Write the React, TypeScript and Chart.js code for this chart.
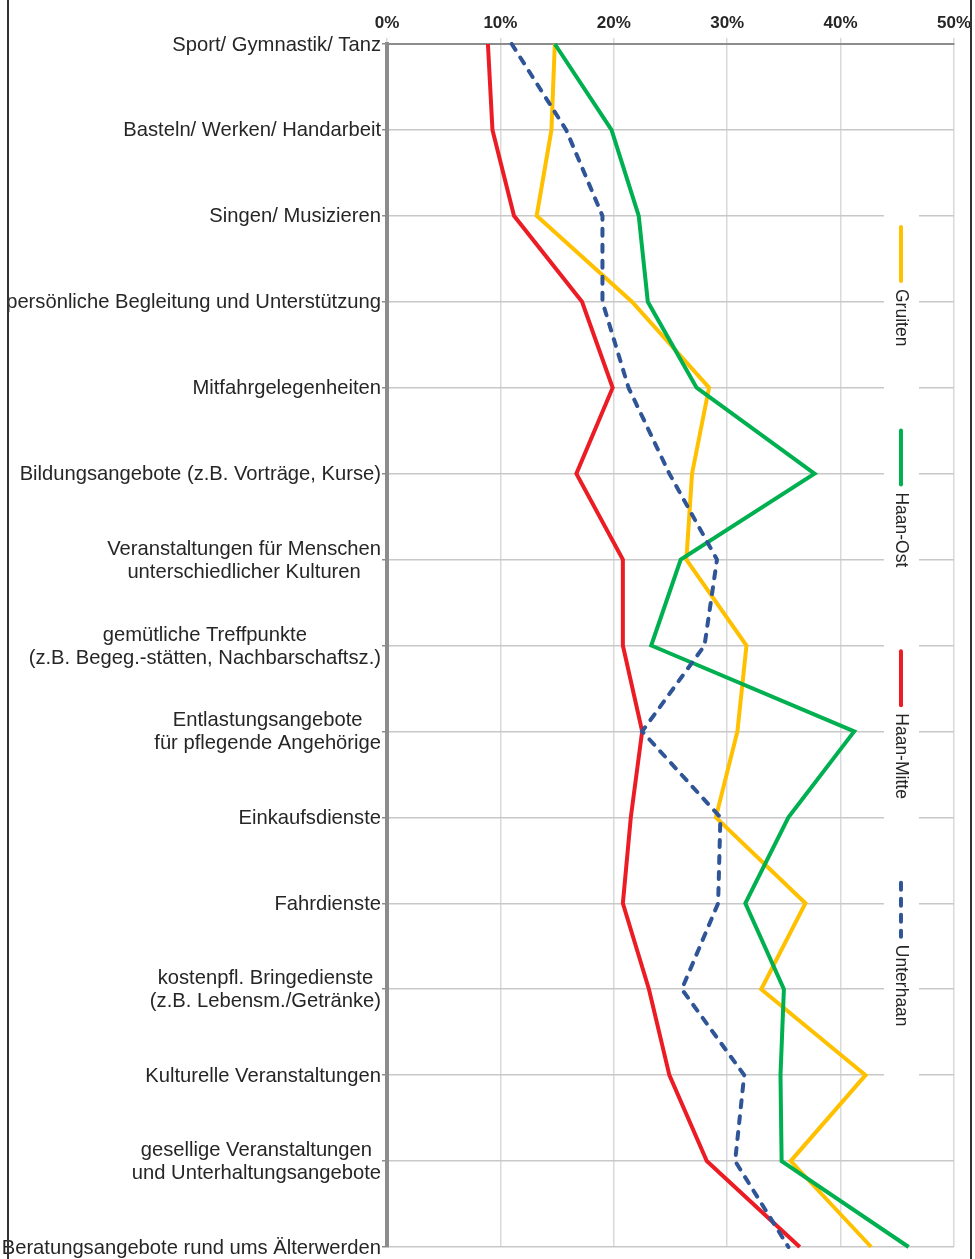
import React, { useEffect, useRef } from 'react';
import { Chart, registerables } from 'chart.js';

Chart.register(...registerables);

const categories: (string | string[])[] = [
  'Sport/ Gymnastik/ Tanz',
  'Basteln/ Werken/ Handarbeit',
  'Singen/ Musizieren',
  'persönliche Begleitung und Unterstützung',
  'Mitfahrgelegenheiten',
  'Bildungsangebote (z.B. Vorträge, Kurse)',
  ['Veranstaltungen für Menschen', 'unterschiedlicher Kulturen'],
  ['gemütliche Treffpunkte', '(z.B. Begeg.-stätten, Nachbarschaftsz.)'],
  ['Entlastungsangebote', 'für pflegende Angehörige'],
  'Einkaufsdienste',
  'Fahrdienste',
  ['kostenpfl. Bringedienste', '(z.B. Lebensm./Getränke)'],
  'Kulturelle Veranstaltungen',
  ['gesellige Veranstaltungen', 'und Unterhaltungsangebote'],
  'Beratungsangebote rund ums Älterwerden',
];

const seriesNames = ['Gruiten', 'Haan-Ost', 'Haan-Mitte', 'Unterhaan'];

const gruiten = [14.8, 14.5, 13.2, 21.6, 28.4, 26.9, 26.4, 31.7, 30.9, 29.0, 36.9, 33.0, 42.2, 35.6, 42.7];
const haanOst = [14.8, 19.8, 22.2, 23.0, 27.3, 37.7, 25.9, 23.3, 41.2, 35.4, 31.6, 35.0, 34.7, 34.8, 46.0];
const haanMitte = [8.9, 9.3, 11.2, 17.2, 19.9, 16.7, 20.8, 20.8, 22.5, 21.5, 20.8, 23.1, 24.9, 28.2, 36.4];
const unterhaan = [11.0, 15.8, 19.0, 19.0, 21.3, 24.9, 29.1, 28.0, 22.5, 29.4, 29.2, 26.0, 31.5, 30.7, 35.4];

const xTicks = [0, 10, 20, 30, 40, 50];

const seriesValues = [gruiten, haanOst, haanMitte, unterhaan];
const seriesColors = ['#FFC000', '#00B050', '#EC1C24', '#2F5597'];
const seriesDashes: number[][] = [[], [], [], [7, 9]];

const FONT = '"Liberation Sans", Arial, sans-serif';
const TEXT_COLOR = '#262626';

const yLabelPlugin = {
  id: 'yLabels',
  afterDraw(chart: any) {
    const { ctx } = chart;
    const y = chart.scales.y;
    ctx.save();
    ctx.font = `20.2px ${FONT}`;
    ctx.fillStyle = TEXT_COLOR;
    ctx.textBaseline = 'middle';
    ctx.textAlign = 'center';
    const right = y.right - 6;
    const lh = 23;
    categories.forEach((label, i) => {
      const lines = Array.isArray(label) ? label : [label];
      const yc = y.getPixelForTick(i) + 1;
      const maxW = Math.max(...lines.map((l) => ctx.measureText(l).width));
      const cx = right - maxW / 2;
      lines.forEach((l, j) => {
        ctx.fillText(l, cx, yc + (j - (lines.length - 1) / 2) * lh);
      });
    });
    ctx.restore();
  },
};

const legendPlugin = {
  id: 'vLegend',
  beforeDatasetsDraw(chart: any) {
    const { ctx, chartArea } = chart;
    const cx = chartArea.right - 53;
    ctx.save();
    ctx.fillStyle = '#ffffff';
    ctx.fillRect(cx - 17, 200, 35, 885);
    ctx.font = `17.5px ${FONT}`;
    let yPos = 225;
    const sampleLen = 58;
    seriesNames.forEach((name, i) => {
      ctx.save();
      ctx.strokeStyle = seriesColors[i];
      ctx.lineWidth = 4;
      ctx.lineCap = 'round';
      ctx.setLineDash(seriesDashes[i]);
      ctx.beginPath();
      ctx.moveTo(cx, yPos + 2);
      ctx.lineTo(cx, yPos + sampleLen - 2);
      ctx.stroke();
      ctx.restore();
      const textStart = yPos + sampleLen + 6;
      const w = ctx.measureText(name).width;
      ctx.save();
      ctx.translate(cx, textStart);
      ctx.rotate(Math.PI / 2);
      ctx.fillStyle = TEXT_COLOR;
      ctx.textAlign = 'left';
      ctx.textBaseline = 'middle';
      ctx.fillText(name, 0, 0);
      ctx.restore();
      yPos = textStart + w + 82;
    });
    ctx.restore();
  },
};

const framePlugin = {
  id: 'frame',
  afterDraw(chart: any) {
    const { ctx, height } = chart;
    ctx.save();
    ctx.strokeStyle = '#333333';
    ctx.lineWidth = 2;
    ctx.beginPath();
    ctx.moveTo(8, 0);
    ctx.lineTo(8, height);
    ctx.moveTo(971, 0);
    ctx.lineTo(971, height);
    ctx.stroke();
    ctx.restore();
  },
};

export default function App() {
  const canvasRef = useRef<HTMLCanvasElement | null>(null);

  useEffect(() => {
    document.body.style.margin = '0';
    const canvas = canvasRef.current;
    if (!canvas) return;
    const chart = new Chart(canvas, {
      type: 'line',
      data: {
        labels: categories as any,
        datasets: seriesNames.map((name, i) => ({
          label: name,
          data: seriesValues[i],
          borderColor: seriesColors[i],
          backgroundColor: seriesColors[i],
          borderWidth: 4,
          borderDash: seriesDashes[i],
          borderCapStyle: i === 3 ? 'round' : 'butt',
          borderJoinStyle: 'miter',
          pointRadius: 0,
          pointHoverRadius: 0,
          tension: 0,
          fill: false,
          order: seriesNames.length - i,
        })) as any,
      },
      options: {
        indexAxis: 'y',
        responsive: false,
        animation: false,
        devicePixelRatio: 1,
        layout: { padding: { left: 0, right: 16, top: 0, bottom: 12 } },
        plugins: {
          legend: { display: false },
          tooltip: { enabled: false },
        },
        scales: {
          x: {
            type: 'linear',
            position: 'top',
            min: 0,
            max: 50,
            afterBuildTicks(scale: any) {
              scale.ticks = xTicks.map((v) => ({ value: v }));
            },
            afterFit(scale: any) {
              scale.height = 44;
            },
            ticks: {
              callback: (v: any) => `${v}%`,
              font: { family: FONT, size: 17, weight: 'bold' },
              color: TEXT_COLOR,
              padding: 4,
              maxRotation: 0,
            },
            grid: {
              color: '#d9d9d9',
              lineWidth: 1.5,
              tickLength: 6,
              tickColor: '#d9d9d9',
            },
            border: { display: true, color: '#8c8c8c', width: 2 },
          },
          y: {
            type: 'category',
            offset: false,
            afterFit(scale: any) {
              scale.width = 387;
            },
            ticks: {
              color: 'rgba(0,0,0,0)',
              font: { size: 8 },
              autoSkip: false,
            },
            grid: {
              color: '#c8c8c8',
              lineWidth: 1.5,
              tickLength: 5,
              tickColor: '#8c8c8c',
            },
            border: { display: true, color: '#8c8c8c', width: 4 },
          },
        },
      } as any,
      plugins: [legendPlugin, yLabelPlugin, framePlugin],
    });
    return () => chart.destroy();
  }, []);

  return (
    <canvas
      ref={canvasRef}
      width={975}
      height={1259}
      style={{ display: 'block', width: '975px', height: '1259px' }}
    />
  );
}
